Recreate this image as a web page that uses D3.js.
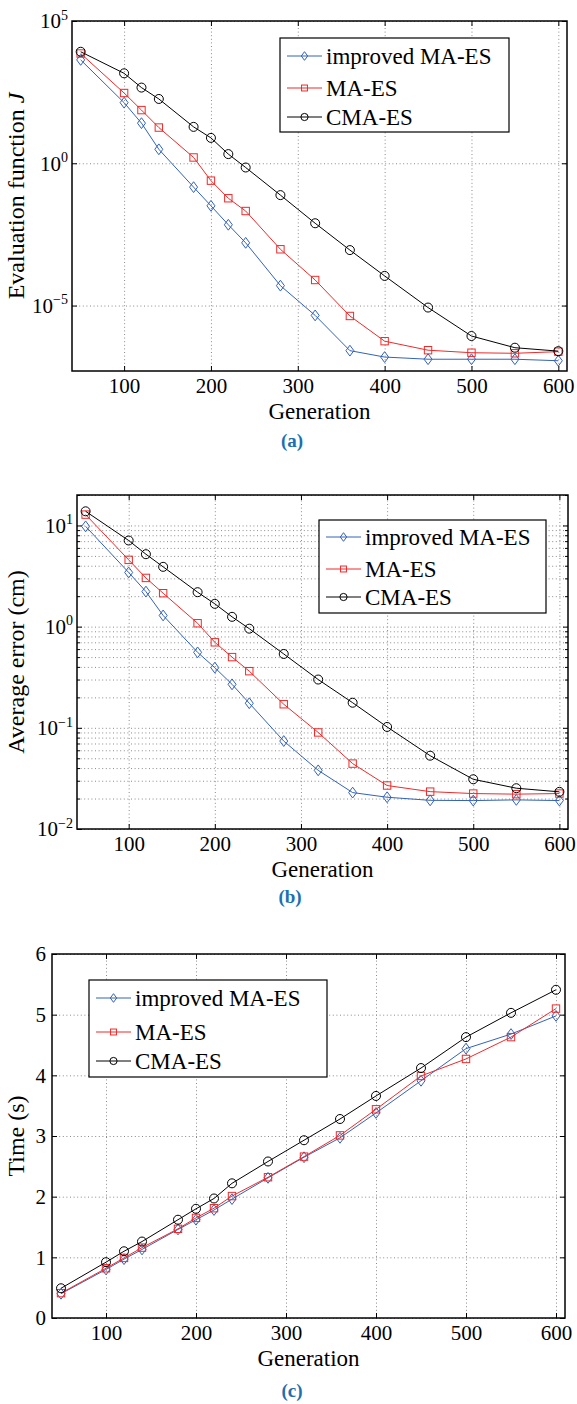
<!DOCTYPE html>
<html>
<head>
<meta charset="utf-8">
<script src="https://cdn.jsdelivr.net/npm/d3@7"></script>
<style>
body { margin: 0; background: #fff; }
</style>
</head>
<body>
<svg id="chart" width="577" height="1404"></svg>
<script>
"use strict";
// data
var generations = [50, 100, 120, 140, 180, 200, 220, 240, 280, 320, 360, 400, 450, 500, 550, 600];
var seriesNames = ["improved MA-ES", "MA-ES", "CMA-ES"];

// (a) evaluation function J
var evalImproved = [4.3e3, 135, 25.7, 3.1, 0.145, 0.032, 6.9e-3, 1.6e-3, 5.0e-5, 4.5e-6, 2.6e-7, 1.55e-7, 1.3e-7, 1.3e-7, 1.3e-7, 1.15e-7];
var evalMAES = [7.2e3, 295, 74, 18, 1.6, 0.245, 0.059, 0.021, 9.5e-4, 7.9e-5, 4.3e-6, 5.6e-7, 2.7e-7, 2.2e-7, 2.1e-7, 2.4e-7];
var evalCMAES = [8.3e3, 1.45e3, 457, 182, 19, 7.8, 2.1, 0.71, 0.076, 7.8e-3, 8.9e-4, 1.1e-4, 8.5e-6, 8.5e-7, 3.3e-7, 2.5e-7];

// (b) average error (cm)
var errImproved = [9.8, 3.43, 2.22, 1.29, 0.557, 0.393, 0.269, 0.175, 0.074, 0.038, 0.0229, 0.0206, 0.0192, 0.0191, 0.0194, 0.0191];
var errMAES = [12.8, 4.57, 3.03, 2.14, 1.08, 0.70, 0.50, 0.363, 0.171, 0.090, 0.0443, 0.0269, 0.0234, 0.0224, 0.0221, 0.0224];
var errCMAES = [13.8, 7.1, 5.2, 3.9, 2.19, 1.68, 1.25, 0.955, 0.537, 0.30, 0.177, 0.102, 0.053, 0.031, 0.0253, 0.0233];

// (c) time (s)
var timeImproved = [0.40, 0.80, 0.97, 1.13, 1.46, 1.62, 1.78, 1.96, 2.31, 2.65, 2.97, 3.38, 3.91, 4.44, 4.68, 4.98];
var timeMAES = [0.41, 0.82, 0.99, 1.16, 1.47, 1.65, 1.81, 2.01, 2.32, 2.66, 3.01, 3.44, 3.99, 4.27, 4.63, 5.10];
var timeCMAES = [0.49, 0.92, 1.10, 1.26, 1.62, 1.80, 1.97, 2.22, 2.58, 2.93, 3.28, 3.66, 4.12, 4.63, 5.03, 5.41];

var xTicks = [100, 200, 300, 400, 500, 600];
var evalTicks = [1e5, 1, 1e-5];
var errTicks = [10, 1, 0.1, 0.01];
var errMinorTicks = [0.02, 0.03, 0.04, 0.05, 0.06, 0.07, 0.08, 0.09, 0.2, 0.3, 0.4, 0.5, 0.6, 0.7, 0.8, 0.9, 2, 3, 4, 5, 6, 7, 8, 9, 20];
var timeTicks = [0, 1, 2, 3, 4, 5, 6];

var seriesColors = ["#3462b8", "#ee2a2a", "#000000"];
var seriesMarkers = ["diamond", "square", "circle"];

var serif = "'Liberation Serif', 'DejaVu Serif', serif";
var svg = d3.select("#chart").attr("font-family", serif);

// draw one marker symbol centred on 0,0
function addMarker(sel, type, color, k) {
	k = k || 1;
	if (type == "circle") {
		sel.append("circle").attr("r", 4.5 * k);
	} else if (type == "square") {
		var s = 3.7 * k;
		sel.append("rect").attr("x", -s).attr("y", -s).attr("width", 2 * s).attr("height", 2 * s);
	} else {
		var w = 4 * k, h = 5.4 * k;
		sel.append("path").attr("d", "M0," + (-h) + "L" + w + ",0L0," + h + "L" + (-w) + ",0Z");
	}
	sel.selectAll("*").attr("fill", "none").attr("stroke", color).attr("stroke-width", 1);
}

function superscriptLabels(axisG) {
	axisG.selectAll(".tick text").each(function(d) {
		var t = d3.select(this);
		var e = Math.round(Math.log10(d));
		t.text(null);
		t.append("tspan").text("10");
		t.append("tspan").attr("dy", "-0.6em").style("font-size", "14px")
			.text(e < 0 ? "\u2212" + (-e) : String(e));
	});
}

function drawPanel(p) {
	var w = p.right - p.left, h = p.bottom - p.top;
	var x = d3.scaleLinear().domain([40, 610]).range([p.left, p.right]);
	var y = (p.log ? d3.scaleLog() : d3.scaleLinear()).domain(p.yDomain).range([p.bottom, p.top]);
	var g = svg.append("g");

	// dotted grid
	var gridY = p.yTicks.concat(p.yMinor || []);
	g.append("g").attr("class", "grid")
		.attr("transform", "translate(0," + p.bottom + ")")
		.call(d3.axisBottom(x).tickValues(xTicks).tickSize(-h).tickFormat(""));
	g.append("g").attr("class", "grid")
		.attr("transform", "translate(" + p.left + ",0)")
		.call(d3.axisLeft(y).tickValues(gridY).tickSize(-w).tickFormat(""));
	g.selectAll(".grid .domain").remove();
	g.selectAll(".grid line").attr("stroke", "#8a8a8a").attr("stroke-width", 1).attr("stroke-dasharray", "1,2.6");

	// axes, ticks pointing inward on all four sides
	g.append("g").attr("transform", "translate(0," + p.bottom + ")")
		.call(d3.axisBottom(x).tickValues(xTicks).tickSizeInner(-5).tickSizeOuter(0).tickPadding(7));
	g.append("g").attr("transform", "translate(0," + p.top + ")")
		.call(d3.axisTop(x).tickValues(xTicks).tickSizeInner(-5).tickSizeOuter(0).tickFormat(""));
	var yl = g.append("g").attr("transform", "translate(" + p.left + ",0)")
		.call(d3.axisLeft(y).tickValues(p.yTicks).tickSizeInner(-5).tickSizeOuter(0).tickPadding(p.log ? 4 : 6)
			.tickFormat(p.log ? "" : d3.format("d")));
	g.append("g").attr("transform", "translate(" + p.right + ",0)")
		.call(d3.axisRight(y).tickValues(p.yTicks).tickSizeInner(-5).tickSizeOuter(0).tickFormat(""));
	if (p.yMinor) {
		g.append("g").attr("transform", "translate(" + p.left + ",0)")
			.call(d3.axisLeft(y).tickValues(p.yMinor).tickSizeInner(-3).tickSizeOuter(0).tickFormat(""));
		g.append("g").attr("transform", "translate(" + p.right + ",0)")
			.call(d3.axisRight(y).tickValues(p.yMinor).tickSizeInner(-3).tickSizeOuter(0).tickFormat(""));
	}
	g.selectAll("g").attr("font-family", null);
	g.selectAll(".domain").remove();
	g.selectAll(".tick text").style("font-size", "21px").attr("fill", "#000");
	if (p.log) superscriptLabels(yl);

	// frame
	g.append("rect").attr("x", p.left).attr("y", p.top).attr("width", w).attr("height", h)
		.attr("fill", "none").attr("stroke", "#000").attr("stroke-width", 1.5);

	// series
	var line = d3.line().x(function(d) { return x(d[0]); }).y(function(d) { return y(d[1]); });
	p.series.forEach(function(vals, i) {
		var pts = generations.map(function(gen, j) { return [gen, vals[j]]; });
		g.append("path").datum(pts).attr("d", line)
			.attr("fill", "none").attr("stroke", seriesColors[i]).attr("stroke-width", 1);
		g.selectAll(".m" + i).data(pts).enter().append("g")
			.attr("transform", function(d) { return "translate(" + x(d[0]) + "," + y(d[1]) + ")"; })
			.each(function() { addMarker(d3.select(this), seriesMarkers[i], seriesColors[i]); });
	});

	// axis labels
	g.append("text").attr("x", (p.left + p.right) / 2).attr("y", p.bottom + 48)
		.attr("text-anchor", "middle").style("font-size", "23px").text("Generation");
	var yt = g.append("text").attr("transform", "translate(24," + ((p.top + p.bottom) / 2) + ") rotate(-90)")
		.attr("text-anchor", "middle").style("font-size", "24px").text(p.yLabel);
	if (p.yLabelItalic) yt.append("tspan").attr("font-style", "italic").text(p.yLabelItalic);

	// legend
	var lg = g.append("g").attr("transform", "translate(" + p.legend[0] + "," + p.legend[1] + ")");
	lg.append("rect").attr("width", p.legend[2]).attr("height", p.legend[3])
		.attr("fill", "#fff").attr("stroke", "#000").attr("stroke-width", 1.2);
	seriesNames.forEach(function(name, i) {
		var ey = p.legendRows[i];
		lg.append("line").attr("x1", 7).attr("x2", 42).attr("y1", ey).attr("y2", ey)
			.attr("stroke", seriesColors[i]).attr("stroke-width", 1);
		var mk = lg.append("g").attr("transform", "translate(24.5," + ey + ")");
		addMarker(mk, seriesMarkers[i], seriesColors[i], 0.8);
		lg.append("text").attr("x", 46).attr("y", ey).attr("dy", "0.33em")
			.style("font-size", "23px").text(name);
	});

	// caption
	svg.append("text").attr("x", p.captionX).attr("y", p.captionY).attr("text-anchor", "middle")
		.style("font-size", "19px").attr("font-weight", "bold")
		.attr("fill", "#1c6fb0").text(p.caption);
}

drawPanel({
	left: 72, top: 21, right: 567, bottom: 371,
	log: true, yDomain: [Math.pow(10, -7.3), 1e5], yTicks: evalTicks,
	series: [evalImproved, evalMAES, evalCMAES],
	yLabel: "Evaluation function ", yLabelItalic: "J",
	legend: [280, 38, 229, 94], legendRows: [18, 50, 79],
	caption: "(a)", captionX: 292, captionY: 447
});
drawPanel({
	left: 77, top: 495, right: 568, bottom: 829,
	log: true, yDomain: [0.01, 20], yTicks: errTicks, yMinor: errMinorTicks,
	series: [errImproved, errMAES, errCMAES],
	yLabel: "Average error (cm)",
	legend: [319, 520, 227, 93], legendRows: [17, 49, 77],
	caption: "(b)", captionX: 290, captionY: 903
});
drawPanel({
	left: 52, top: 954, right: 565, bottom: 1318,
	log: false, yDomain: [0, 6], yTicks: timeTicks,
	series: [timeImproved, timeMAES, timeCMAES],
	yLabel: "Time (s)",
	legend: [89, 980, 238, 97], legendRows: [18, 52, 81],
	caption: "(c)", captionX: 292, captionY: 1397
});

// one serif face for every label, set inline so nothing overrides it
svg.selectAll("text").style("font-family", serif);
</script>
</body>
</html>
